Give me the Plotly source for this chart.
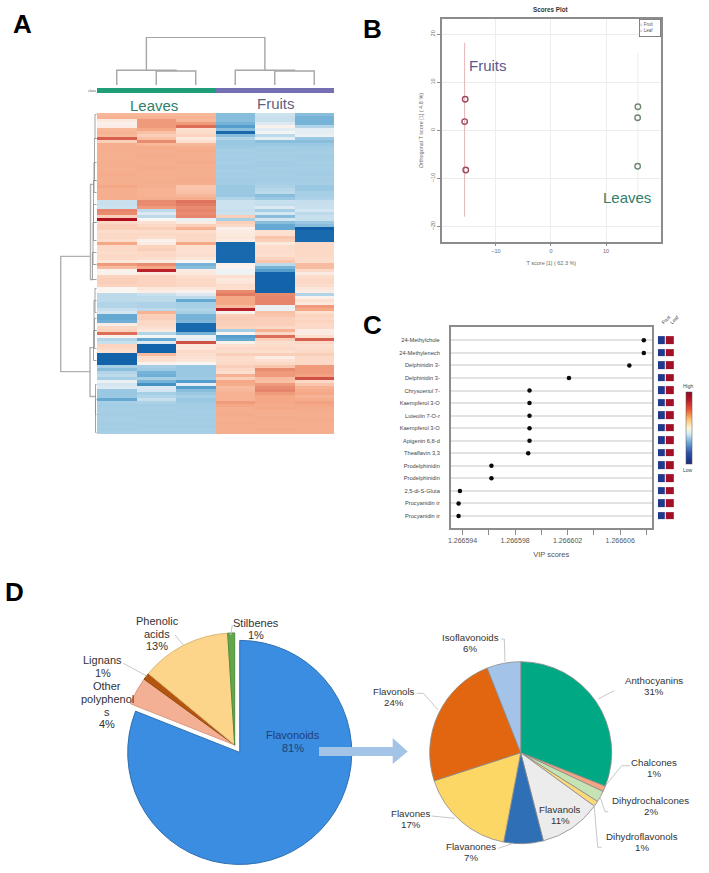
import plotly.graph_objects as go

W, H = 709, 873
FONT = "Liberation Sans"

# ---- panel A: clustered heatmap, one row per 3 image pixels
heat_cols = ["L1", "L2", "L3", "F1", "F2", "F3"]
heat_rows = [
    [.42, .42, .42, -.55, -.28, -.55], [.45, .45, .45, -.55, -.30, -.60], [.12, .55, .42, -.55, -.30, -.60],
    [.05, .55, .55, -.60, -.20, -.60], [.08, .55, .70, -.70, .05, -.40], [.42, .50, .20, -.55, -.15, -.15],
    [.45, .38, .22, -.95, -.05, -.15], [.42, .30, .28, -.55, -.35, -.10], [.75, .38, .12, -.40, -.15, -.50],
    [.30, .60, .20, -.50, -.55, -.55], [.47, .42, .42, -.50, -.50, -.50],
    [.47, .48, .47, -.48, -.46, -.47], [.47, .47, .48, -.45, -.47, -.46], [.46, .47, .47, -.46, -.45, -.45],
    [.47, .48, .47, -.45, -.46, -.47], [.46, .47, .47, -.46, -.45, -.46], [.47, .46, .48, -.45, -.47, -.45],
    [.47, .47, .47, -.46, -.46, -.46], [.46, .48, .47, -.47, -.45, -.45], [.47, .47, .46, -.45, -.46, -.46],
    [.48, .47, .47, -.46, -.45, -.47], [.47, .46, .47, -.45, -.46, -.45], [.46, .47, .48, -.47, -.46, -.46],
    [.47, .47, .47, -.46, -.45, -.45],
    [.50, .47, .35, -.50, -.42, -.50], [.47, .45, .36, -.50, -.38, -.50],
    [.47, .45, .38, -.50, -.35, -.45], [.47, .45, .42, -.50, -.55, -.45], [.47, .47, .47, -.40, -.50, -.42],
    [-.30, .60, .68, -.28, -.30, -.32], [-.30, .60, .65, -.28, -.32, -.30], [-.28, .55, .60, -.28, -.20, -.30],
    [.62, -.35, .62, -.30, -.45, -.25], [.60, -.20, .60, -.28, -.25, -.35], [.30, -.35, .62, .30, -.55, -.30],
    [1.0, .0, -.10, -.45, -.25, -.30], [.25, .18, .10, .30, -.55, -.50], [.30, .25, .30, .25, -.65, -.55],
    [.30, .30, .45, .05, -.65, -1.0], [.22, .22, .22, .10, .18, -.95], [.25, .25, .25, .12, .20, -.95],
    [.25, .22, .25, .15, .35, -.95], [.22, .05, .25, .10, .30, -.95], [.50, .10, .50, -.95, .12, .25],
    [.25, .28, .20, -.95, .22, .25], [.25, .30, .20, -.95, .22, .25], [.22, .25, .18, -.95, .22, .25],
    [.25, .25, .22, -.95, .20, .25], [.25, .22, .15, -.95, .28, .22], [.15, .10, -.02, -.95, .35, .22],
    [.55, .60, -.60, .05, -.35, .40], [.40, .50, -.55, .03, -.60, .40], [.05, .95, .10, -.08, -.70, .25],
    [.05, .12, .12, -.08, -.98, .10], [.28, .28, .20, .20, -.98, .22], [.30, .28, .25, .12, -.98, .25],
    [.30, .28, .25, .15, -.98, .25],
    [.28, .28, .25, .22, -.98, .22], [.02, .15, .15, .20, -.98, .15], [.02, .08, .05, .60, -.98, .10],
    [-.35, -.30, -.20, .65, .60, -.40], [-.35, -.35, -.35, .50, .62, .05], [-.35, -.35, -.65, .50, .62, .20],
    [-.40, -.42, -.45, .50, .62, .12], [-.40, -.42, -.45, .40, -.10, .55], [-.30, -.35, -.40, .95, -.10, .50],
    [-.25, .45, -.45, .05, .38, .20], [-.65, .30, -.60, .30, .35, .28], [-.65, .30, -.60, .32, .30, .25],
    [-.62, .25, -.58, .30, .30, .28], [.08, .25, -.95, .30, .30, .25], [.25, .20, -.95, .28, .25, .25],
    [.28, .12, -.95, -.45, .45, .10], [.70, -.40, -.60, .02, .25, .10], [.05, -.05, -.10, -.70, .70, .20],
    [-.40, -.65, -.15, -.65, .30, .75], [-.30, -.20, .80, .05, .20, .25], [.28, -.98, .15, .20, .22, .20],
    [.25, -.98, .15, .25, .25, .22], [.20, -.98, .25, .22, .20, .25], [-.98, .40, .20, .30, .30, .30],
    [-.98, .22, .18, .22, .08, .25], [-.98, .20, .15, .22, .20, .25], [-.98, .05, -.02, .25, .25, .25],
    [-.45, -.45, -.50, .30, .35, .55], [-.55, -.48, -.50, .25, .60, .55], [-.40, -.60, -.50, .20, .55, .55],
    [-.35, -.62, -.50, .45, .55, .52], [-.45, -.45, -.48, .30, .40, .80], [-.10, -.60, -.70, .50, .38, .25],
    [-.25, -.75, -.15, .48, .55, .35], [-.20, -.20, -.70, .40, .60, .45], [-.50, -.25, -.55, .42, .62, .48],
    [-.50, -.45, -.50, .45, .55, .50], [-.50, -.40, -.45, .45, .50, .45], [-.65, -.30, -.50, .45, .50, .48],
    [-.45, -.42, -.48, .55, .50, .52],
    [-.46, -.46, -.46, .50, .48, .50], [-.45, -.45, -.46, .47, .50, .48], [-.45, -.46, -.45, .47, .47, .48],
    [-.46, -.45, -.46, .48, .47, .47], [-.45, -.46, -.45, .47, .48, .47], [-.45, -.45, -.46, .47, .47, .48],
    [-.46, -.45, -.45, .48, .47, .47], [-.45, -.46, -.46, .47, .47, .47], [-.46, -.45, -.45, .47, .48, .47],
    [-.45, -.45, -.45, .47, .47, .47],
]
class_bar = [0, 0, 0, 1, 1, 1]
# (left, right, height, left base, right base)
top_tree = [(1, 2, 14, 0, 0), (0, 1.5, 14.7, 0, 14), (4, 5, 14, 0, 0), (3, 4.5, 14.7, 0, 14), (.75, 3.75, 47.7, 14.7, 14.7)]
side_tree = [(47.3, 85.7, 36.3, 6.5, 6.5), (23.3, 55, 6.5, 3, 4), (77.7, 94, 7, 3, 1)]
side_twigs = [(0, 8, 2, .5, .5), (8, 22, 2.5, .5, .5), (16, 26, 3, .5, .5), (22, 36, 3.5, .5, .5), (30, 42, 3.5, .5, .5),
              (36, 50, 4, .5, .5), (46, 55, 4.5, .5, .5), (58, 66, 2, .5, .5), (62, 72, 3, .5, .5), (68, 78, 2.5, .5, .5),
              (72, 82, 3.5, .5, .5), (90, 100, 1.5, .5, .5), (95, 106, 1.5, .5, .5)]

# ---- panel B: OPLS-DA scores
fruit_x = [-15.6, -15.7, -15.5]
fruit_y = [6.46, 1.8, -8.27]
leaf_x = [15.8, 15.75, 15.75]
leaf_y = [4.9, 2.6, -7.5]
fruit_band = [18.2, -18.0]
leaf_band = [16.0, -15.0]

# ---- panel C: VIP scores
vip_names = ["24-Methylchole", "24-Methylenech", "Delphinidin 3-", "Delphinidin 3-", "Chrysoeriol 7-",
             "Kaempferol 3-O", "Luteolin 7-O-r", "Kaempferol 3-O", "Apigenin 6,8-d", "Theaflavin 3,3",
             "Prodelphinidin", "Prodelphinidin", "2,5-di-S-Gluta", "Procyanidin tr", "Procyanidin tr"]
vip_scores = [1.2666078, 1.2666078, 1.2666067, 1.2666021, 1.2665991, 1.2665991, 1.2665991, 1.2665991,
              1.2665991, 1.2665990, 1.2665962, 1.2665962, 1.2665938, 1.2665937, 1.2665937]
vip_ticks = [1.266594, 1.266596, 1.266598, 1.266600, 1.266602, 1.266604, 1.266606, 1.266608]
vip_tick_text = ["1.266594", "", "1.266598", "", "1.266602", "", "1.266606", ""]
fruit_level = [-.88, -.88, -.88, -.88, -.88, -.88, -.88, -.88, -.88, -.88, -.88, -.88, -.88, -.88, -.88]
leaf_level = [.88, .88, .88, .88, .88, .88, .88, .88, .88, .88, .88, .88, .88, .88, .88]

# ---- panel D: pies
class_names = ["Flavonoids", "Other polyphenols", "Lignans", "Phenolic acids", "Stilbenes"]
class_shares = [81, 4, 1, 13, 1]
class_colors = ["#3a8de0", "#f4b094", "#b5560f", "#fdd58a", "#62a84a"]
class_edges = ["#2f70b0", "#d99a80", "#964a10", "#d9b774", "#4f8c3c"]
flav_names = ["Anthocyanins", "Chalcones", "Dihydrochalcones", "Dihydroflavonols", "Flavanols",
              "Flavanones", "Flavones", "Flavonols", "Isoflavonoids"]
flav_shares = [31, 1, 2, 1, 11, 7, 17, 24, 6]
flav_colors = ["#00a884", "#f4a582", "#c5e3b5", "#fdd97a", "#ececec", "#2f6fb5", "#fdd766", "#e2660f", "#a3c4e8"]


def px(x):
    return x / W


def py(y):
    return 1 - y / H


def tree_lines(tree):
    a, b = [], []
    for left, right, h, base_l, base_r in tree:
        a += [left, left, right, right, None]
        b += [base_l, h, h, base_r, None]
    return a, b


heat_scale = [[0, "#0f5fa8"], [.125, "#4292c6"], [.25, "#9ac8e2"], [.375, "#d4e6f1"], [.5, "#fbf7f5"],
              [.625, "#fcd9c6"], [.75, "#f4a886"], [.875, "#d6604d"], [1, "#b2101f"]]
vip_scale = [[0, "#1b2a78"], [.15, "#2b50a8"], [.3, "#6fa8d6"], [.42, "#d6eaf3"], [.5, "#fdf6d8"],
             [.62, "#fdc070"], [.75, "#ea5a35"], [.9, "#b2142a"], [1, "#8a0a22"]]

fig = go.Figure()

# panel A
fig.add_trace(go.Heatmap(z=heat_rows, x=list(range(6)), y=list(range(len(heat_rows))), zmin=-1, zmax=1,
                         colorscale=heat_scale, showscale=False, xaxis="x", yaxis="y"))
fig.add_trace(go.Heatmap(z=[class_bar], x=list(range(6)), y=[0], zmin=0, zmax=1, showscale=False,
                         colorscale=[[0, "#1f9e77"], [1, "#7570b3"]], xaxis="x", yaxis="y4"))
tx, ty = tree_lines(top_tree)
fig.add_trace(go.Scatter(x=tx, y=ty, mode="lines", line=dict(color="#a6a6a6", width=1.4), xaxis="x", yaxis="y3"))
rows_a, heights_a = tree_lines(side_tree)
fig.add_trace(go.Scatter(x=heights_a, y=rows_a, mode="lines", line=dict(color="#b0b0b0", width=1.4), xaxis="x2", yaxis="y2"))
rows_b, heights_b = tree_lines(side_twigs)
fig.add_trace(go.Scatter(x=heights_b, y=rows_b, mode="lines", line=dict(color="#8c8c8c", width=0.8), xaxis="x2", yaxis="y2"))

# panel B
fig.add_trace(go.Scatter(x=[fruit_x[1], fruit_x[1]], y=fruit_band, mode="lines",
                         line=dict(color="#e6b3b8", width=1), xaxis="x5", yaxis="y5"))
fig.add_trace(go.Scatter(x=[leaf_x[0], leaf_x[0]], y=leaf_band, mode="lines",
                         line=dict(color="#e8efe8", width=1), xaxis="x5", yaxis="y5"))
fig.add_trace(go.Scatter(x=fruit_x, y=fruit_y, mode="markers", xaxis="x5", yaxis="y5",
                         marker=dict(symbol="circle-open", size=5.5, color="#9b4a62", line=dict(width=1.4))))
fig.add_trace(go.Scatter(x=leaf_x, y=leaf_y, mode="markers", xaxis="x5", yaxis="y5",
                         marker=dict(symbol="circle-open", size=5.5, color="#6f8a70", line=dict(width=1.4))))

# panel C
fig.add_trace(go.Scatter(x=vip_scores, y=list(range(15)), mode="markers", xaxis="x6", yaxis="y6",
                         marker=dict(color="#0a0a0a", size=4.5)))
fig.add_trace(go.Heatmap(z=[[f, l] for f, l in zip(fruit_level, leaf_level)], x=["Fruit", "Leaf"], y=list(range(15)),
                         zmin=-1, zmax=1, colorscale=vip_scale, xgap=1, ygap=5, xaxis="x7", yaxis="y7",
                         colorbar=dict(x=px(685.5), xanchor="left", y=py(428), yanchor="middle", lenmode="pixels",
                                       len=72, thickness=5.5, xpad=0, ypad=0, showticklabels=False, ticks="",
                                       outlinecolor="#555555", outlinewidth=0.5)))

# panel D
fig.add_trace(go.Pie(labels=class_names, values=class_shares, sort=False, direction="clockwise", rotation=0,
                     pull=[.08, 0, 0, 0, 0], marker=dict(colors=class_colors, line=dict(color=class_edges, width=1)),
                     textinfo="none", showlegend=False,
                     domain=dict(x=[px(113.7), px(355.7)], y=[py(866), py(624)])))
fig.add_trace(go.Pie(labels=flav_names, values=flav_shares, sort=False, direction="clockwise", rotation=0,
                     marker=dict(colors=flav_colors, line=dict(color="#8a8a8a", width=0.8)),
                     textinfo="none", showlegend=False,
                     domain=dict(x=[px(429.7), px(611.7)], y=[py(843.7), py(661.7)])))

hidden = dict(visible=False)
sci = dict(color="#6a6a6a", size=5.5, family=FONT)
fig.update_layout(
    width=W, height=H, margin=dict(l=0, r=0, t=0, b=0, autoexpand=False), paper_bgcolor="white", plot_bgcolor="white",
    showlegend=False, font=dict(family=FONT, color="#333333"),
    xaxis=dict(hidden, domain=[px(97), px(334)], range=[-.5, 5.5]),
    yaxis=dict(hidden, domain=[py(434), py(113)], range=[len(heat_rows) - .5, -.5]),
    xaxis2=dict(hidden, domain=[px(55), px(97)], range=[42, 0], anchor="y2"),
    yaxis2=dict(hidden, domain=[py(434), py(113)], range=[len(heat_rows) - .5, -.5], anchor="x2"),
    yaxis3=dict(hidden, domain=[py(85), py(37)], range=[0, 48], anchor="x"),
    yaxis4=dict(hidden, domain=[py(93.3), py(88)], range=[-.5, .5], anchor="x"),
    xaxis5=dict(domain=[px(441.7), px(661)], range=[-19.87, 20], anchor="y5", tickvals=[-10, 0, 10],
                gridcolor="#ececec", zeroline=False, showline=True, mirror=True, linecolor="#8c8c8c", linewidth=1.5,
                ticks="outside", ticklen=3, tickcolor="#8c8c8c", tickfont=sci,
                title=dict(text="T score [1] ( 62.3 %)", font=sci, standoff=8)),
    yaxis5=dict(domain=[py(241.7), py(19.3)], range=[-23.2, 23.1], anchor="x5", tickvals=[-20, -10, 0, 10, 20],
                gridcolor="#ececec", zeroline=False, showline=True, mirror=True, linecolor="#8c8c8c", linewidth=1.5,
                ticks="outside", ticklen=3, tickcolor="#8c8c8c", tickfont=sci, tickangle=-90,
                title=dict(text="Orthogonal T score [1] ( 4.8 %)", font=sci, standoff=6)),
    xaxis6=dict(domain=[px(450.7), px(651.7)], range=[1.2665931, 1.2666084], anchor="y6", tickvals=vip_ticks,
                ticktext=vip_tick_text, showgrid=False, zeroline=False, showline=True, mirror=True,
                linecolor="#8c8c8c", linewidth=1.5, ticks="outside", ticklen=5, tickcolor="#8c8c8c",
                tickfont=dict(size=7, color="#555555"),
                title=dict(text="VIP scores", font=dict(size=7.5, color="#555555"), standoff=8)),
    yaxis6=dict(domain=[py(528.3), py(327.3)], range=[14.98, -1.04], anchor="x6", tickvals=list(range(15)),
                ticktext=vip_names, gridcolor="#e2e2e2", gridwidth=1.5, zeroline=False, showline=True, mirror=True,
                linecolor="#8c8c8c", linewidth=1.5, ticks="", ticklabelstandoff=8,
                tickfont=dict(size=5.7, color="#444444")),
    xaxis7=dict(domain=[px(657.8), px(674.6)], range=[-.5, 1.5], anchor="y7", side="top", showgrid=False, showline=False,
                ticks="", tickangle=-45, tickfont=dict(size=5, color="#444444"), zeroline=False),
    yaxis7=dict(hidden, domain=[py(528.3), py(327.3)], range=[14.98, -1.04], anchor="x7"),
)

# panel letters, on-plot group names and small panel texts
notes = [
    ("A", 22, 24, 26, "#000000", True), ("B", 373, 29, 26, "#000000", True),
    ("C", 373, 325, 26, "#000000", True), ("D", 14, 592, 26, "#000000", True),
    ("Leaves", 154, 105, 15, "#2f7f6a", False), ("Fruits", 275.7, 103, 15, "#5f5f80", False),
    ("class", 92, 90.6, 3.5, "#555555", False),
    ("Fruits", 488, 66, 15, "#5a5a8c", False), ("Leaves", 627, 198, 15, "#2f7f6a", False),
    ("Scores Plot", 551, 10, 6.3, "#333333", True),
    ("High", 688, 386, 5, "#444444", False), ("Low", 688, 470, 5, "#444444", False),
]
for text, x, y, size, color, bold in notes:
    fig.add_annotation(text=f"<b>{text}</b>" if bold else text, x=px(x), y=py(y), xref="paper", yref="paper",
                       showarrow=False, xanchor="center", yanchor="middle", font=dict(size=size, color=color))

# the small legend box of the scores plot
fig.add_annotation(text="○ Fruit<br>○ Leaf", x=px(661), y=py(19), xref="paper", yref="paper", showarrow=False,
                   xanchor="right", yanchor="top", align="left", width=20, height=16, borderwidth=0.8,
                   bordercolor="#666666", bgcolor="white", borderpad=0, font=dict(size=4.5, color="#555555"))

# pie labels, placed line by line because the leading is tighter than plotly's
pie_labels = [
    (["Phenolic", "acids", "13%"], 157, 621, 12.7, 11, "#333333"),
    (["Stilbenes", "1%"], 256, 622.7, 12.7, 11, "#333333"),
    (["Lignans", "1%"], 102.7, 660, 12.7, 11, "#333333"),
    (["Other", "polyphenol", "s", "4%"], 107.3, 686.3, 12.7, 11, "#333333"),
    (["Flavonoids", "81%"], 293, 735, 12.7, 11, "#1f3f78"),
    (["Isoflavonoids", "6%"], 470, 637, 11.2, 9.7, "#333333"),
    (["Anthocyanins", "31%"], 654, 680.3, 11.2, 9.7, "#333333"),
    (["Chalcones", "1%"], 654, 762.7, 11.2, 9.7, "#333333"),
    (["Dihydrochalcones", "2%"], 650.7, 800.3, 11.2, 9.7, "#333333"),
    (["Dihydroflavonols", "1%"], 641.7, 836.7, 11.2, 9.7, "#333333"),
    (["Flavanols", "11%"], 560, 809.3, 11.2, 9.7, "#333333"),
    (["Flavanones", "7%"], 470.7, 846.7, 11.2, 9.7, "#333333"),
    (["Flavones", "17%"], 410.7, 813.3, 11.2, 9.7, "#333333"),
    (["Flavonols", "24%"], 394.3, 691, 11.2, 9.7, "#333333"),
]
for lines, x, y, leading, size, color in pie_labels:
    for i, line in enumerate(lines):
        fig.add_annotation(text=line, x=px(x), y=py(y + i * leading), xref="paper", yref="paper", showarrow=False,
                           xanchor="center", yanchor="middle", font=dict(size=size, color=color))

# leader lines of the pie labels
leaders = [
    [(175, 635), (183.3, 645)], [(232.3, 625), (230.7, 635)], [(123.3, 663.3), (146.7, 676)],
    [(500.7, 639), (504.3, 639), (505, 661.7)], [(614, 690.7), (598.3, 699)],
    [(630, 765.7), (621.7, 765.7), (606, 785)], [(608.3, 811.7), (605, 811.7), (600, 796.7)],
    [(601.7, 847.3), (597.7, 847.3), (594, 803.3)], [(416.7, 693.3), (423.3, 693.3), (438.3, 710)],
    [(431.7, 816), (455, 818.3)], [(498.3, 848.3), (513.3, 843.3)],
]
for pts in leaders:
    path = "M" + " L".join(f"{px(a)},{py(b)}" for a, b in pts)
    fig.add_shape(type="path", path=path, xref="paper", yref="paper", line=dict(color="#c8c8c8", width=1))

# big arrow between the two pies
arrow = [(319, 747), (392.7, 747), (392.7, 738), (407.7, 751.5), (392.7, 764), (392.7, 756), (319, 756)]
fig.add_shape(type="path", path="M" + " L".join(f"{px(a)},{py(b)}" for a, b in arrow) + " Z", xref="paper", yref="paper",
              fillcolor="#a3c4e6", line=dict(width=0), layer="above")

fig.write_html("out.html", config={"displayModeBar": False}, post_script="document.body.style.margin='0';")
